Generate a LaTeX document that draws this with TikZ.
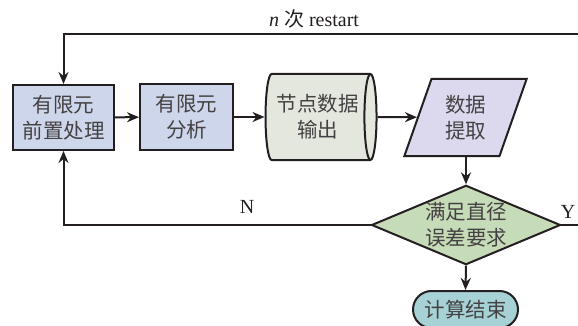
\documentclass[tikz,border=0pt]{standalone}
\usepackage{fontspec}
\setmainfont{Liberation Serif}
\newfontfamily\cjk{Noto Sans CJK SC}
\usetikzlibrary{shapes.geometric,shapes.misc,arrows.meta}
\definecolor{ink}{HTML}{231F20}
\definecolor{boxblue}{HTML}{CDD6EA}
\definecolor{cylgrey}{HTML}{E4E7DE}
\definecolor{paralav}{HTML}{DCD9EE}
\definecolor{diagreen}{HTML}{C6DBB7}
\definecolor{termteal}{HTML}{A6D2D5}
\tikzset{
  base/.style={draw=ink, line width=2pt, inner sep=0pt, align=center,
    font=\cjk\fontsize{20.5}{26}\selectfont, text=ink!85},
  procbox/.style={base, rectangle},
  conn/.style={draw=ink, line width=2pt, -{Stealth[length=12pt,width=10pt]}},
  plainline/.style={draw=ink, line width=2pt},
  lab/.style={font=\fontsize{20}{22}\selectfont, text=ink, inner sep=0pt}
}
\begin{document}
\begin{tikzpicture}[x=1pt,y=-1pt]
\useasboundingbox (0,0) rectangle (578,326);
\node[procbox, fill=boxblue, minimum width=101pt, minimum height=65pt] (pre) at (63.5,117.5) {有限元\\前置处理};
\node[procbox, fill=boxblue, minimum width=93pt, minimum height=66pt] (fea) at (186.5,117) {有限元\\分析};
\node[base, cylinder, shape border rotate=0, shape aspect=0.27, fill=cylgrey,
      minimum height=111pt, minimum width=86pt] (out) at (317.5,117) {节点数据\\输出};
\node[base, trapezium, trapezium left angle=70, trapezium right angle=110,
      trapezium stretches=true, fill=paralav,
      minimum width=123pt, minimum height=77pt] (ext) at (465.5,117.5) {数据\\提取};
\node[base, diamond, aspect=2.38, fill=diagreen,
      minimum width=188pt, minimum height=79pt] (dec) at (466,225) {满足直径\\误差要求};
\node[base, rounded rectangle, fill=termteal,
      minimum width=105pt, minimum height=37pt] (end) at (465.5,309.5) {计算结束};
\coordinate (topr) at (578,34);
\coordinate (yend) at (578,225);
\draw[conn] (pre) -- (fea);
\draw[conn] (fea) -- (out);
\draw[conn] (out.east) -- (ext);
\draw[conn] (ext.south -| dec.north) -- (dec.north);
\draw[conn] (dec.south) -- (end.north);
\draw[conn] (dec.west) -| (pre.south);
\draw[conn] (topr) -| (pre.north);
\draw[plainline] (dec.east) -- (yend);
\node[lab] (nlab) at (247,207) {N};
\node[lab] (ylab) at (568,212) {Y};
\node[lab] (rlab) at (314,19) {{\itshape n} {\cjk 次} restart};
\end{tikzpicture}
\end{document}
